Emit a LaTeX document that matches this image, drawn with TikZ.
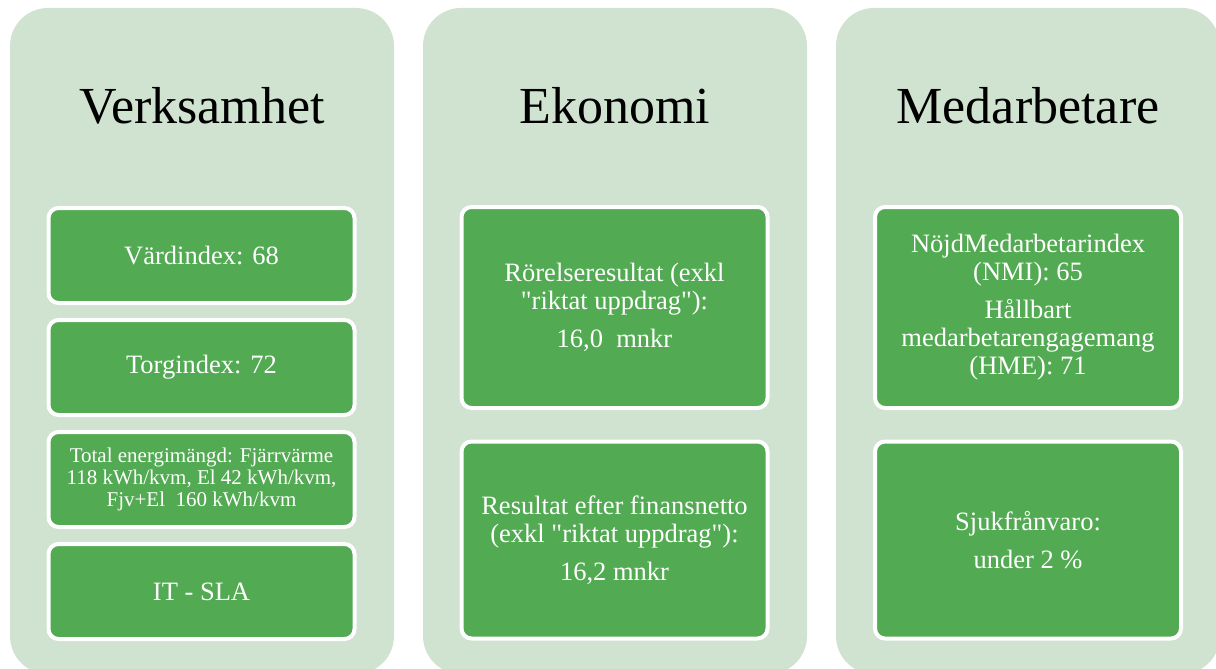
\documentclass[tikz,border=0pt]{standalone}
\usepackage{fontspec}
\setmainfont{Liberation Serif}[Ligatures=TeXOff]
\definecolor{panelg}{RGB}{208,226,208}
\definecolor{boxg}{RGB}{82,170,82}
\begin{document}
\begin{tikzpicture}[x=1pt,y=-1pt,
  panel/.style={fill=panelg, draw=none, rounded corners=38pt, minimum width=384pt, minimum height=666pt, inner sep=0pt},
  title/.style={font=\fontsize{52}{60}\selectfont, text=black, anchor=base},
  kbox/.style={fill=boxg, draw=white, line width=4pt, rounded corners=10pt, text=white, align=center, inner sep=0pt, minimum width=306pt, font=\fontsize{26.5}{28}\selectfont},
  smallbox/.style={kbox, font=\fontsize{21}{22}\selectfont},
  ]
\useasboundingbox (0,0) rectangle (1216,669);
\clip (0,0) rectangle (1216,669);
% panels
\node[panel] (p1) at (202,341) {};
\node[panel] (p2) at (615,341) {};
\node[panel] (p3) at (1028,341) {};
% titles
\node[title] (t1) at (202,124) {Verksamhet};
\node[title] (t2) at (615,124) {Ekonomi};
\node[title] (t3) at (1028,124) {Medarbetare};
% column 1
\node[kbox, minimum height=95pt] (v1) at (201.5,255.5) {Värdindex: 68};
\node[kbox, minimum height=95pt] (v2) at (201.5,367.5) {Torgindex: 72};
\node[smallbox, minimum height=95pt] (v3) at (201.5,479.5) {Total energimängd: Fjärrvärme\\118 kWh/kvm, El 42 kWh/kvm,\\Fjv+El\ \ 160 kWh/kvm};
\node[kbox, minimum height=95pt] (v4) at (201.5,591.5) {IT - SLA};
% column 2
\node[kbox, minimum height=201pt] (e1) at (614.5,307.5) {Rörelseresultat (exkl\\"riktat uppdrag"):\\[10pt]16,0\ \ mnkr};
\node[kbox, minimum height=197pt] (e2) at (614.5,540) {Resultat efter finansnetto\\(exkl "riktat uppdrag"):\\[10pt]16,2 mnkr};
% column 3
\node[kbox, minimum height=201pt] (m1) at (1028,307.5) {NöjdMedarbetarindex\\(NMI): 65\\[10pt]Hållbart\\medarbetarengagemang\\(HME): 71};
\node[kbox, minimum height=197pt] (m2) at (1028,540) {Sjukfrånvaro:\\[10pt]under 2 \%};
\end{tikzpicture}
\end{document}
